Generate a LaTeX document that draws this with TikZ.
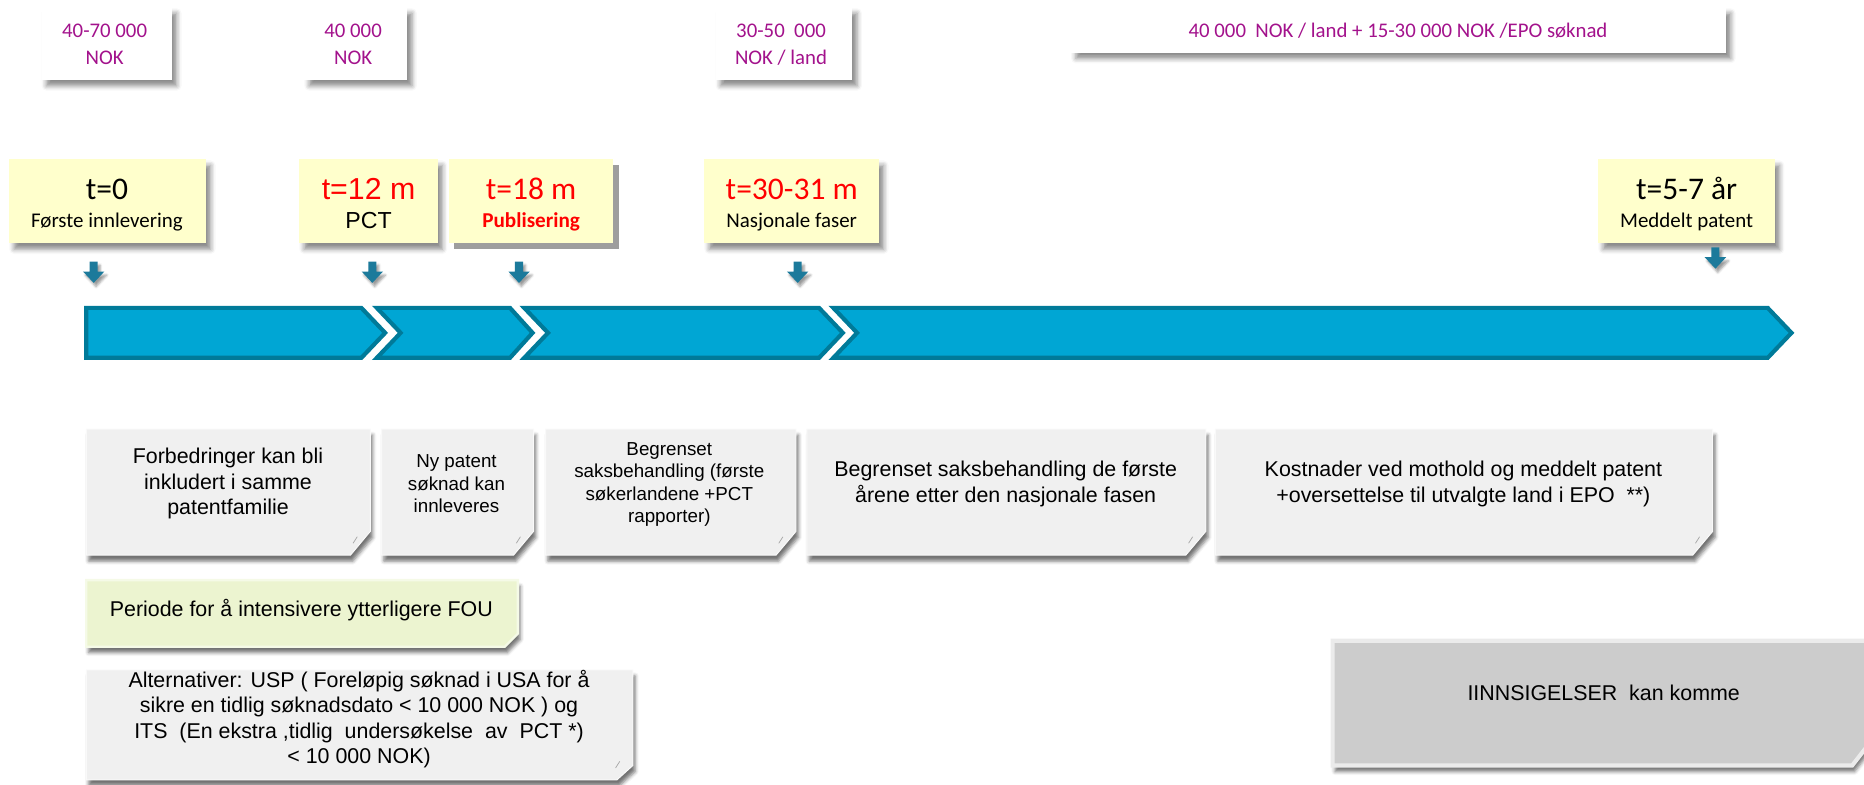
\documentclass[tikz,border=0pt]{standalone}
\usepackage{fontspec}
\setmainfont{Carlito}
\newfontfamily\arialfont{Liberation Sans}
\usetikzlibrary{shadows.blur}

\definecolor{costmag}{RGB}{163,18,140}
\definecolor{noteyellow}{RGB}{255,255,204}
\definecolor{hardshadow}{RGB}{158,158,158}
\definecolor{barfill}{RGB}{0,166,212}
\definecolor{baredge}{RGB}{0,122,153}
\definecolor{markteal}{RGB}{28,122,155}
\definecolor{notegrey}{RGB}{240,240,240}
\definecolor{notegreen}{RGB}{236,244,208}
\definecolor{objgrey}{RGB}{204,204,204}
\definecolor{objedge}{RGB}{235,235,235}

\tikzset{
  softshadow/.style={blur shadow={shadow xshift=4pt,shadow yshift=-5pt,shadow blur radius=4pt,shadow opacity=45}},
  costbox/.style={fill=white,softshadow},
  costtext/.style={text=costmag,font=\fontsize{17.5}{22.4}\selectfont,align=center,inner sep=0pt},
  datebox/.style={fill=noteyellow,softshadow},
  datetitle/.style={font=\fontsize{26.5}{30}\selectfont,inner sep=0pt,anchor=base},
  datesub/.style={font=\fontsize{17.6}{20}\selectfont,inner sep=0pt,anchor=base},
  phase/.style={fill=barfill,draw=baredge,line width=3.5pt,line join=miter},
  noteshadow/.style={blur shadow={shadow xshift=2pt,shadow yshift=-5pt,shadow blur radius=3pt,shadow opacity=55}},
  notebox/.style={fill=notegrey,draw=white!60!notegrey,line width=0.8pt,noteshadow},
  notetext/.style={font=\arialfont\fontsize{18}{21.5}\selectfont,align=center,inner sep=0pt},
  smallnote/.style={font=\arialfont\fontsize{15.8}{19}\selectfont,align=center,inner sep=0pt},
  foldline/.style={draw=black!35,line width=0.6pt},
  downmark/.pic={\fill[markteal,blur shadow={shadow xshift=2pt,shadow yshift=-3pt,shadow blur radius=2pt,shadow opacity=40}]
      (-3.4,0) -- (3.4,0) -- (3.4,8.4) -- (9,8.4) -- (0,18) -- (-9,8.4) -- (-3.4,8.4) -- cycle;},
  foldmark/.pic={\draw[foldline] (-14.5,-10) .. controls (-13.5,-13) .. (-11,-15.5);},
}

\begin{document}
\begin{tikzpicture}[x=1pt,y=-1pt]
\useasboundingbox (0,0) rectangle (1568,660);

% ---------- cost estimates along the top ----------
\path[costbox] (35,6) rectangle (144.7,67.3);
\node[costtext] (cost0) at (88,37.5) {40-70 000\\NOK};
\path[costbox] (256,6) rectangle (342.6,67.3);
\node[costtext] (cost12) at (297,37.5) {40 000\\NOK};
\path[costbox] (602,6) rectangle (717,67.3);
\node[costtext] (cost30) at (657,37.5) {30-50~~000\\NOK / land};
\path[costbox] (901,6) rectangle (1452,44.3);
\node[costtext] (costgrant) at (1176,26) {40 000~~NOK / land + 15-30 000 NOK /EPO søknad};

% ---------- milestones ----------
\path[datebox] (7.8,134) rectangle (173.3,204.7);
\node[datetitle] (t0) at (90,168.2) {t=0};
\node[datesub] (t0s) at (90,191) {Første innlevering};

\path[datebox] (251.8,134) rectangle (368.2,204.7);
\node[datetitle,text=red,font=\arialfont\fontsize{25.5}{30}\selectfont] (t12) at (310,168.2) {t=12 m};
\node[datesub,font=\arialfont\fontsize{19.5}{22}\selectfont] (t12s) at (310,192) {PCT};

\fill[hardshadow] (382,138.5) rectangle (520.8,209.3);
\fill[noteyellow] (378,134) rectangle (516,204.7);
\node[datetitle,text=red] (t18) at (446.8,168.2) {t=18 m};
\node[datesub,text=red,font=\bfseries\fontsize{17.8}{20}\selectfont] (t18s) at (446.8,191) {Publisering};

\path[datebox] (592.5,134) rectangle (739.4,204.7);
\node[datetitle,text=red] (t30) at (666,168.2) {t=30-31 m};
\node[datesub] (t30s) at (666,191) {Nasjonale faser};

\path[datebox] (1344.5,134) rectangle (1493,204.7);
\node[datetitle] (t5) at (1418.8,168.2) {t=5-7 år};
\node[datesub] (t5s) at (1418.8,191) {Meddelt patent};

% ---------- markers pointing down to the time line ----------
\pic at (78.8,220) {downmark};
\pic at (313.2,220) {downmark};
\pic at (436.6,220) {downmark};
\pic at (671,220) {downmark};
\pic at (1443,208) {downmark};

% ---------- time line ----------
\path[phase] (72.5,259) -- (304,259) -- (324,280) -- (304,301) -- (72.5,301) -- cycle;
\path[phase] (317,259) -- (429,259) -- (448,280) -- (429,301) -- (317,301) -- (337,280) -- cycle;
\path[phase] (441,259) -- (689,259) -- (709,280) -- (689,301) -- (441,301) -- (461,280) -- cycle;
\path[phase] (701,259) -- (1487,259) -- (1507,280) -- (1487,301) -- (701,301) -- (721,280) -- cycle;

% ---------- notes under each phase ----------
\path[notebox] (72.6,361) -- (311.5,361) -- (311.5,447) -- (294.8,467) -- (72.6,467) -- cycle;
\pic at (311.5,467) {foldmark};
\node[notetext] (n1) at (191.8,407) {Forbedringer kan bli\\inkludert i samme\\patentfamilie};

\path[notebox] (321,361) -- (448.8,361) -- (448.8,447) -- (432,467) -- (321,467) -- cycle;
\pic at (448.8,467) {foldmark};
\node[smallnote] (n2) at (384,407) {Ny patent\\søknad kan\\innleveres};

\path[notebox] (458.9,361) -- (669.6,361) -- (669.6,447) -- (652.8,467) -- (458.9,467) -- cycle;
\pic at (669.6,467) {foldmark};
\node[smallnote] (n3) at (563,407.5) {Begrenset\\saksbehandling (første\\søkerlandene +PCT\\rapporter)};

\path[notebox] (678.7,361) -- (1014.3,361) -- (1014.3,447) -- (997.5,467) -- (678.7,467) -- cycle;
\pic at (1014.3,467) {foldmark};
\node[notetext] (n4) at (846,407) {Begrenset saksbehandling de første\\årene etter den nasjonale fasen};

\path[notebox] (1022.3,361) -- (1440.7,361) -- (1440.7,447) -- (1423.9,467) -- (1022.3,467) -- cycle;
\pic at (1440.7,467) {foldmark};
\node[notetext] (n5) at (1231,407) {Kostnader ved mothold og meddelt patent\\+oversettelse til utvalgte land i EPO~~**)};

% ---------- period and alternatives ----------
\path[notebox,fill=notegreen,draw=white!50!notegreen,line width=2pt] (72.6,488) -- (435.6,488) -- (435.6,533) -- (424.6,544) -- (72.6,544) -- cycle;
\node[notetext] (fou) at (253.5,513) {Periode for å intensivere ytterligere FOU};

\path[notebox] (72.6,563.6) -- (532.3,563.6) -- (532.3,644) -- (519,656) -- (72.6,656) -- cycle;
\pic at (532.3,656) {foldmark};
\node[notetext] (alt) at (302,605) {Alternativer: USP ( Foreløpig søknad i USA for å\\sikre en tidlig søknadsdato < 10 000 NOK ) og\\ITS~ (En ekstra ,tidlig~ undersøkelse~ av~ PCT *)\\< 10 000 NOK)};

% ---------- objections ----------
\path[fill=objgrey,draw=objedge,line width=3.5pt,noteshadow] (1121,539) -- (1572,539) -- (1572,626) -- (1558,644) -- (1121,644) -- cycle;
\node[notetext] (opp) at (1349,583) {IINNSIGELSER~~kan komme};

\end{tikzpicture}
\end{document}
